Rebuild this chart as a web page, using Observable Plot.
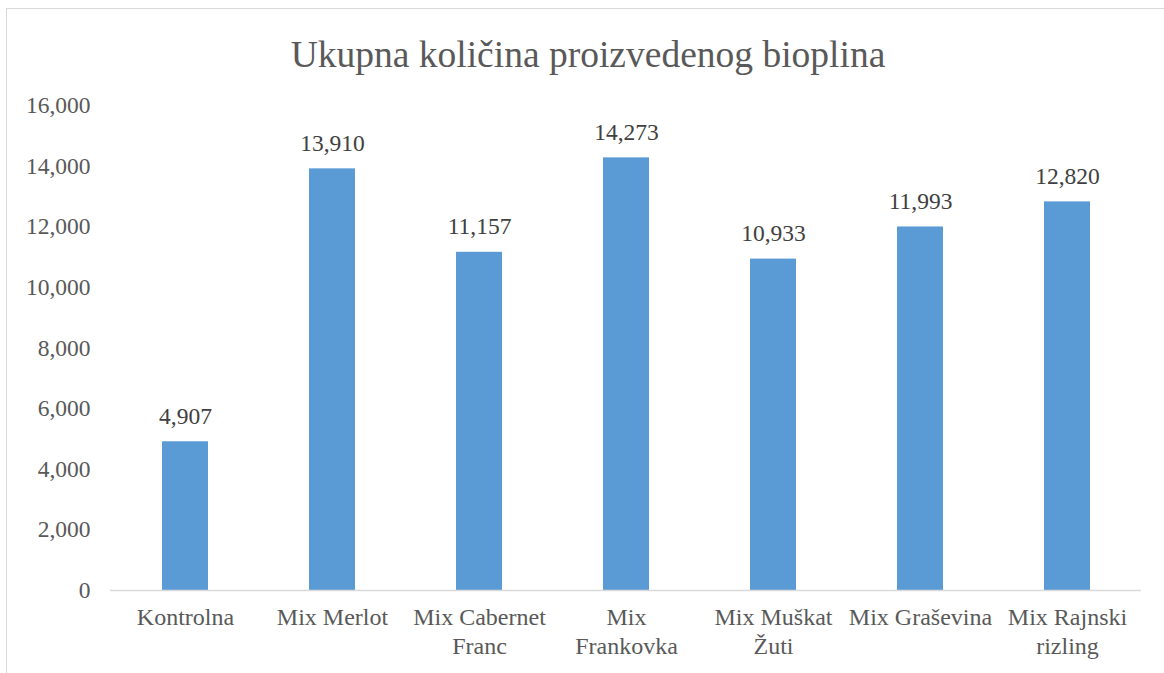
<!DOCTYPE html>
<html>
<head>
<meta charset="utf-8">
<script src="https://cdn.jsdelivr.net/npm/d3@7"></script>
<script src="https://cdn.jsdelivr.net/npm/@observablehq/plot@0.6"></script>
<style>
  html, body { margin: 0; padding: 0; background: #fff; overflow: hidden; }
  body { width: 1164px; height: 673px; position: relative; font-family: "Liberation Serif", "Times New Roman", serif; }
  #frame { position: absolute; left: 6px; top: 8px; width: 1200px; height: 700px; border: 1.5px solid #d9d9d9; box-sizing: border-box; }
  #title { position: absolute; left: 6px; top: 36px; width: 1164px; text-align: center; font-size: 37.5px; color: #595959; line-height: 1; }
  #chart { position: absolute; left: 0; top: 88px; }
</style>
</head>
<body>
<div id="frame"></div>
<div id="title">Ukupna količina proizvedenog bioplina</div>
<div id="chart"></div>
<script>
const categories = ["Kontrolna", "Mix Merlot", "Mix Cabernet Franc", "Mix Frankovka", "Mix Muškat Žuti", "Mix Graševina", "Mix Rajnski rizling"];
const categoryLabels = ["Kontrolna", "Mix Merlot", "Mix Cabernet\nFranc", "Mix\nFrankovka", "Mix Muškat\nŽuti", "Mix Graševina", "Mix Rajnski\nrizling"];
const values = [4907, 13910, 11157, 14273, 10933, 11993, 12820];
const yTicks = [0, 2000, 4000, 6000, 8000, 10000, 12000, 14000, 16000];

const data = categories.map((c, i) => ({category: c, value: values[i]}));
const labelOf = new Map(categories.map((c, i) => [c, categoryLabels[i]]));
const fmt = d3.format(",");

const chart = Plot.plot({
  width: 1164,
  height: 585,
  marginTop: 17,
  marginBottom: 83,
  marginLeft: 110,
  marginRight: 23,
  style: {fontFamily: "'Liberation Serif', 'Times New Roman', serif", fontSize: "24px", color: "#595959", background: "transparent"},
  x: {domain: categories, paddingInner: 0.688, paddingOuter: 0.344, label: null},
  y: {domain: [0, 16000], label: null},
  marks: [
    Plot.barY(data, {x: "category", y: "value", fill: "#5B9BD5"}),
    Plot.ruleY([0], {stroke: "#d9d9d9", strokeWidth: 1.5}),
    Plot.text(data, {x: "category", y: "value", text: d => fmt(d.value), lineAnchor: "bottom", dy: -18, fill: "#404040", fontSize: 23.5}),
    Plot.axisY({ticks: yTicks, tickFormat: fmt, tickSize: 0, tickPadding: 20, fontSize: 23.5, fill: "#595959", label: null}),
    Plot.axisX({tickFormat: c => labelOf.get(c), tickSize: 0, tickPadding: 15, fontSize: 24, fill: "#595959", lineHeight: 1.17, label: null})
  ]
});
document.getElementById("chart").appendChild(chart);
</script>
</body>
</html>
